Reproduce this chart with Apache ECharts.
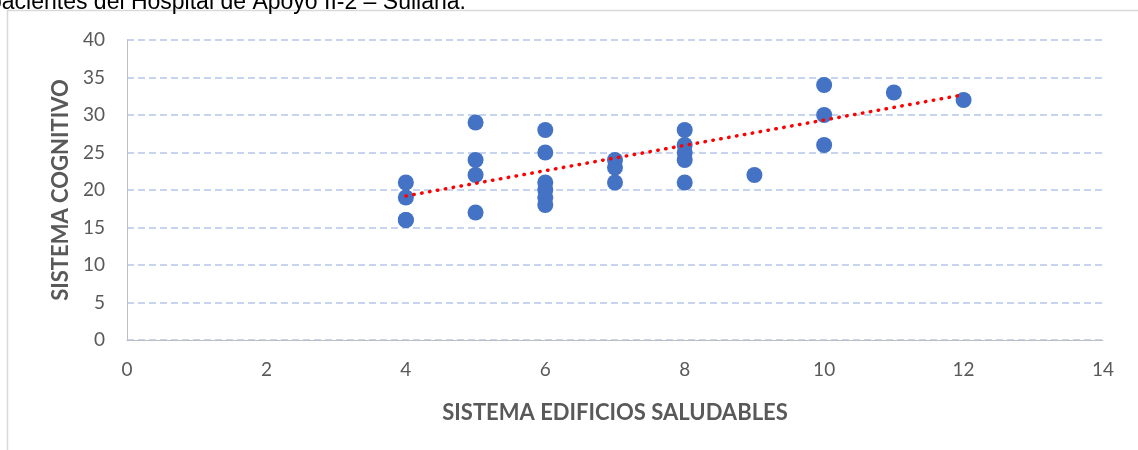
<!DOCTYPE html>
<html>
<head>
<meta charset="utf-8">
<style>
  html, body { margin: 0; padding: 0; background: #fff; }
  #main { width: 1138px; height: 450px; }
</style>
<script src="https://cdn.jsdelivr.net/npm/echarts@6/dist/echarts.min.js"></script>
</head>
<body>
<div id="main"></div>
<script>
// puntos: [edificios saludables, cognitivo]
const xValues = [4, 4, 4, 4, 5, 5, 5, 5, 6, 6, 6, 6, 6, 6, 7, 7, 7, 8, 8, 8, 8, 8, 9, 10, 10, 10, 11, 12];
const yValues = [21, 19, 16, 16, 29, 24, 22, 17, 28, 25, 21, 20, 19, 18, 24, 23, 21, 28, 26, 25, 24, 21, 22, 34, 30, 26, 33, 32];
// linea de tendencia (extremos leidos)
const trendX = [4, 12];
const trendY = [19.2, 32.7];
const xTicks = [0, 14, 2];
const yTicks = [0, 40, 5];

const points = xValues.map((x, i) => [x, yValues[i]]);
const trend = trendX.map((x, i) => [x, trendY[i]]);

const labelFont = 'Lato, "Open Sans", sans-serif';
const chart = echarts.init(document.getElementById('main'));
chart.setOption({
  animation: false,
  grid: { left: 127, right: 35, top: 40, bottom: 110 },
  graphic: [
    {
      type: 'text',
      x: -11, y: 14,
      style: {
        text: 'pacientes del Hospital de Apoyo II-2 – Sullana.',
        font: '23px "Liberation Sans", Arial, sans-serif',
        fill: '#000',
        textVerticalAlign: 'bottom'
      },
      silent: true
    },
    {
      type: 'rect',
      shape: { x: 7.5, y: 10.5, width: 1200, height: 500 },
      style: { fill: '#fff', stroke: '#D9D9D9', lineWidth: 1.5 },
      silent: true,
      z: -10
    }
  ],
  xAxis: {
    type: 'value',
    min: xTicks[0], max: xTicks[1], interval: xTicks[2],
    name: 'SISTEMA EDIFICIOS SALUDABLES',
    nameLocation: 'middle',
    nameGap: 62,
    nameTextStyle: { color: '#595959', fontSize: 22, fontWeight: 'bold', fontFamily: labelFont },
    axisLine: { show: true, lineStyle: { color: '#BFBFBF', width: 1 } },
    axisTick: { show: false },
    splitLine: { show: false },
    axisLabel: { color: '#595959', fontSize: 19, margin: 20, fontFamily: labelFont }
  },
  yAxis: {
    type: 'value',
    min: yTicks[0], max: yTicks[1], interval: yTicks[2],
    name: 'SISTEMA COGNITIVO',
    nameLocation: 'middle',
    nameGap: 41,
    nameTextStyle: { color: '#595959', fontSize: 22, fontWeight: 'bold', fontFamily: labelFont },
    axisLine: { show: true, lineStyle: { color: '#BFBFBF', width: 1 } },
    axisTick: { show: false },
    splitLine: { show: true, lineStyle: { color: '#B4C7E7', width: 1.5, type: [7, 4] } },
    axisLabel: { color: '#595959', fontSize: 19, margin: 22, fontFamily: labelFont }
  },
  series: [
    {
      type: 'scatter',
      data: points,
      symbolSize: 16,
      itemStyle: { color: '#4472C4', opacity: 1 },
      z: 2
    },
    {
      type: 'line',
      data: trend,
      symbol: 'none',
      lineStyle: { color: '#FF0000', width: 3.5, type: [0.5, 7.5], cap: 'round' },
      z: 3
    }
  ]
});
window.addEventListener('resize', function () {
  chart.resize();
});
</script>
</body>
</html>
